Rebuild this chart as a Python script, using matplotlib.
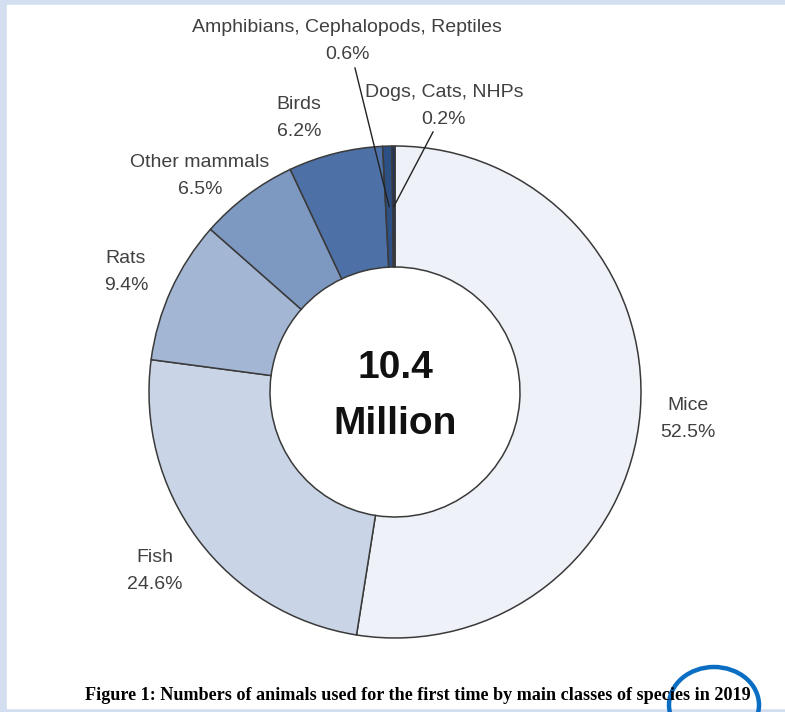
import numpy as np
import matplotlib.pyplot as plt
from matplotlib.patches import Ellipse, Rectangle

# species groups, clockwise from 12 o'clock
species = ["Mice", "Fish", "Rats", "Other mammals", "Birds",
           "Amphibians, Cephalopods, Reptiles", "Dogs, Cats, NHPs"]
share = [52.5, 24.6, 9.4, 6.5, 6.2, 0.6, 0.2]
colors = ["#eef1f7", "#c9d5e6", "#a3b6d3", "#7d99c2", "#4d71a6", "#2c4f84", "#1c3461"]
total_label = "10.4\nMillion"
caption = "Figure 1: Numbers of animals used for the first time by main classes of species in 2019"

W, H = 785, 712
fig = plt.figure(figsize=(W / 100, H / 100), dpi=100)
ax = fig.add_axes([0, 0, 1, 1])

# page frame
fig.patches.append(Rectangle((0, 0), 1, 1, transform=fig.transFigure, color="#d3def0", zorder=-2))
fig.patches.append(Rectangle((7 / W, 4 / H), 1, 1 - 9 / H, transform=fig.transFigure,
                             color="white", zorder=-1))

cx, cy, r = 395, H - 392, 246
ring = 121
wedges, _ = ax.pie(share, colors=colors, startangle=90, counterclock=False,
                   center=(cx, cy), radius=r,
                   wedgeprops=dict(width=ring, edgecolor="#3a3a3a", linewidth=1.1))
ax.set_xlim(0, W)
ax.set_ylim(0, H)
ax.set_aspect("equal")
ax.axis("off")

ax.text(cx, H - 396, total_label, ha="center", va="center", fontsize=28, fontweight="bold",
        family="Liberation Sans", linespacing=1.7, color="#111111")

lbl = dict(ha="center", va="center", fontsize=14, family="Liberation Sans",
           color="#404040", linespacing=1.8)
# label centres (x, y from top)
label_pos = [(688, 419), (155, 571), (126, 272), (200, 176), (299, 118), (347, 41), (444, 106)]
for name, val, (lx, ly) in zip(species, share, label_pos):
    ax.text(lx, H - ly, f"{name}\n{val}%", **lbl)

# leader lines for the two thin wedges
leader_start = {5: (355, 68), 6: (433, 132)}
for i, (sx, sy) in leader_start.items():
    w = wedges[i]
    mid = np.deg2rad((w.theta1 + w.theta2) / 2)
    rm = r - ring / 2
    ex, ey = cx + rm * np.cos(mid), cy + rm * np.sin(mid)
    ax.plot([sx, ex], [H - sy, ey], color="#222222", lw=1.0)

fig.text(418 / W, 1 - 696 / H, caption, ha="center", va="center", fontsize=13.1,
         fontweight="bold", family="Liberation Serif", color="black")

# hand-drawn highlight around the year
ax.add_patch(Ellipse((714, H - 705), 90, 76, fill=False, edgecolor="#0a6fc2", lw=3.2,
                     clip_on=True))

fig.savefig("out.png", dpi=100)
